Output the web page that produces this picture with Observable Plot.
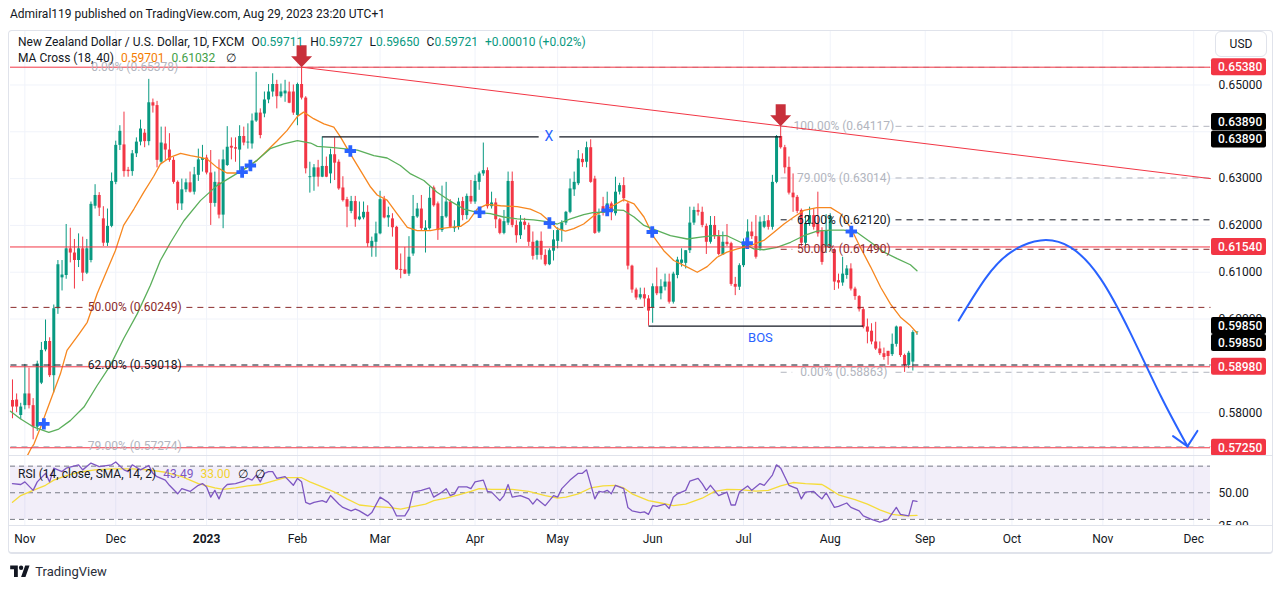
<!DOCTYPE html>
<html><head><meta charset="utf-8">
<script src="https://cdn.jsdelivr.net/npm/d3@7"></script>
<script src="https://cdn.jsdelivr.net/npm/@observablehq/plot@0.6"></script>
<style>
html,body{margin:0;padding:0;background:#fff;}
#wrap{position:relative;width:1281px;height:589px;overflow:hidden;font-family:Roboto,"Noto Sans",sans-serif;color:#131722;font-size:12px;}
.abs{position:absolute;white-space:nowrap;line-height:16px;}
#main,#rsi{position:absolute;left:0;}
#main{top:30px;} #rsi{top:455px;}
.g{color:#089981}.sp{margin-left:7px}
</style></head><body>
<div id="wrap">
  <div class="abs" style="left:10px;top:6px;">Admiral119 published on TradingView.com, Aug 29, 2023 23:20 UTC+1</div>
  <div id="main"></div>
  <div id="rsi"></div>
  <div style="position:absolute;left:9px;top:455px;width:1263px;height:1px;background:#e0e3eb"></div>
  <div style="position:absolute;left:9px;top:525px;width:1263px;height:1px;background:#e0e3eb"></div>
  <div style="position:absolute;left:1212px;top:526px;width:58px;height:9px;background:#fff"></div>
  <div style="position:absolute;left:8px;top:30px;width:1263px;height:521px;border:1px solid #e0e3eb;border-bottom:2px solid #e0e3eb;border-radius:4px;pointer-events:none"></div>
  <div class="abs" style="left:1215px;top:31px;width:50px;height:24px;line-height:24px;border:1px solid #e0e3eb;border-radius:6px;text-align:center;background:#fff">USD</div>
  <div class="abs" id="leg1" style="left:18px;top:34px;"></div>
  <div class="abs" id="leg2" style="left:18px;top:50px;"></div>
  <div class="abs" id="leg3" style="left:18px;top:466px;"></div>
  <div class="abs" style="left:10px;top:564px;font-size:13px;color:#2a2e39;">
    <svg width="20" height="12" viewBox="0 0 36 22" style="vertical-align:-1px"><path d="M14 22H7V8H0V1h14v21zM28 22h-8l7.5-21h8L28 22z" fill="#131722"/><circle cx="20" cy="5" r="4" fill="#131722"/></svg>
    <span style="margin-left:2px">TradingView</span>
  </div>
</div>
<script>
// ---------- DATA ----------
const opens = [
0.5826,0.5827,0.5794,0.5815,0.5840,0.5815,0.5769,0.5863,0.5934,0.5952,
0.5879,0.6022,0.6088,0.6093,0.6150,0.6141,0.6125,0.6150,0.6098,0.6125,
0.6241,0.6264,0.6214,0.6162,0.6198,0.6292,0.6371,0.6372,0.6318,0.6315,
0.6353,0.6378,0.6397,0.6379,0.6462,0.6456,0.6335,0.6374,0.6361,0.6339,
0.6292,0.6246,0.6276,0.6291,0.6271,0.6307,0.6339,0.6344,0.6312,0.6247,
0.6291,0.6222,0.6328,0.6369,0.6366,0.6361,0.6390,0.6376,0.6374,0.6423,
0.6440,0.6438,0.6468,0.6485,0.6501,0.6475,0.6481,0.6485,0.6485,0.6435,
0.6501,0.6472,0.6302,0.6303,0.6323,0.6303,0.6326,0.6310,0.6351,0.6335,
0.6280,0.6255,0.6230,0.6251,0.6212,0.6216,0.6228,0.6152,0.6164,0.6182,
0.6255,0.6216,0.6214,0.6196,0.6106,0.6105,0.6096,0.6139,0.6218,0.6235,
0.6187,0.6193,0.6280,0.6246,0.6189,0.6218,0.6250,0.6193,0.6196,0.6251,
0.6221,0.6262,0.6250,0.6292,0.6310,0.6317,0.6240,0.6248,0.6212,0.6183,
0.6205,0.6294,0.6200,0.6178,0.6207,0.6200,0.6164,0.6136,0.6166,0.6136,
0.6116,0.6145,0.6166,0.6189,0.6205,0.6228,0.6276,0.6289,0.6341,0.6335,
0.6366,0.6299,0.6186,0.6240,0.6228,0.6246,0.6225,0.6271,0.6285,0.6246,
0.6113,0.6062,0.6045,0.6052,0.6043,0.6024,0.6069,0.6054,0.6068,0.6079,
0.6036,0.6093,0.6119,0.6119,0.6146,0.6205,0.6232,0.6228,0.6198,0.6164,
0.6200,0.6176,0.6137,0.6164,0.6161,0.6074,0.6068,0.6114,0.6153,0.6186,
0.6176,0.6150,0.6196,0.6210,0.6196,0.6292,0.6390,0.6366,0.6324,0.6269,
0.6260,0.6232,0.6162,0.6203,0.6221,0.6203,0.6189,0.6153,0.6153,0.6148,
0.6082,0.6077,0.6093,0.6107,0.6064,0.6048,0.6020,0.5983,0.5974,0.5951,
0.5936,0.5926,0.5931,0.5924,0.5946,0.5983,0.5922,0.5901,0.5908,0.59711];
const highs = [
0.5870,0.5840,0.5820,0.5903,0.5895,0.5830,0.5910,0.5950,0.5998,0.5960,
0.6030,0.6125,0.6125,0.6202,0.6194,0.6170,0.6182,0.6175,0.6170,0.6250,
0.6287,0.6270,0.6240,0.6235,0.6312,0.6380,0.6413,0.6442,0.6324,0.6360,
0.6387,0.6425,0.6405,0.6512,0.6470,0.6465,0.6410,0.6410,0.6396,0.6345,
0.6295,0.6299,0.6299,0.6314,0.6324,0.6363,0.6371,0.6350,0.6360,0.6314,
0.6340,0.6361,0.6411,0.6387,0.6387,0.6413,0.6410,0.6417,0.6438,0.6527,
0.6449,0.6485,0.6501,0.6524,0.6510,0.6502,0.6510,0.6506,0.6500,0.6504,
0.6538,0.6475,0.6335,0.6330,0.6339,0.6389,0.6346,0.6363,0.6387,0.6340,
0.6304,0.6260,0.6262,0.6262,0.6250,0.6250,0.6242,0.6175,0.6207,0.6273,
0.6262,0.6239,0.6225,0.6198,0.6139,0.6153,0.6176,0.6264,0.6247,0.6264,
0.6210,0.6282,0.6284,0.6250,0.6284,0.6292,0.6255,0.6210,0.6258,0.6260,
0.6267,0.6296,0.6307,0.6314,0.6376,0.6323,0.6271,0.6257,0.6215,0.6232,
0.6314,0.6314,0.6210,0.6221,0.6215,0.6205,0.6186,0.6168,0.6186,0.6148,
0.6150,0.6189,0.6195,0.6210,0.6230,0.6299,0.6314,0.6360,0.6353,0.6378,
0.6383,0.6305,0.6235,0.6260,0.6271,0.6250,0.6303,0.6290,0.6302,0.6250,
0.6115,0.6066,0.6066,0.6066,0.6050,0.6075,0.6109,0.6084,0.6096,0.6096,
0.6100,0.6132,0.6150,0.6146,0.6239,0.6239,0.6246,0.6239,0.6203,0.6219,
0.6219,0.6189,0.6186,0.6202,0.6164,0.6089,0.6118,0.6171,0.6212,0.6207,
0.6221,0.6218,0.6221,0.6221,0.6307,0.6392,0.6412,0.6371,0.6346,0.6310,
0.6264,0.6235,0.6221,0.6239,0.6235,0.6271,0.6195,0.6223,0.6225,0.6150,
0.6096,0.6132,0.6114,0.6118,0.6068,0.6050,0.6025,0.6000,0.5990,0.5993,
0.5951,0.5938,0.5931,0.5968,0.5985,0.5983,0.5925,0.5931,0.5975,0.59727];
const lows = [
0.5787,0.5800,0.5785,0.5806,0.5808,0.5742,0.5760,0.5860,0.5930,0.5875,
0.5842,0.6010,0.6060,0.6085,0.6120,0.6064,0.6110,0.6080,0.6095,0.6120,
0.6235,0.6219,0.6155,0.6155,0.6195,0.6287,0.6360,0.6303,0.6303,0.6305,
0.6345,0.6370,0.6366,0.6370,0.6440,0.6323,0.6330,0.6339,0.6335,0.6288,
0.6232,0.6232,0.6270,0.6269,0.6265,0.6294,0.6314,0.6308,0.6200,0.6239,
0.6214,0.6193,0.6326,0.6340,0.6335,0.6314,0.6370,0.6363,0.6363,0.6420,
0.6385,0.6430,0.6460,0.6474,0.6449,0.6472,0.6463,0.6460,0.6435,0.6413,
0.6468,0.6310,0.6269,0.6273,0.6282,0.6302,0.6302,0.6289,0.6296,0.6275,
0.6250,0.6195,0.6225,0.6196,0.6210,0.6212,0.6153,0.6132,0.6132,0.6180,
0.6214,0.6196,0.6175,0.6104,0.6086,0.6095,0.6091,0.6134,0.6215,0.6189,
0.6141,0.6190,0.6239,0.6168,0.6185,0.6215,0.6193,0.6185,0.6190,0.6210,
0.6212,0.6245,0.6245,0.6275,0.6305,0.6235,0.6235,0.6193,0.6180,0.6180,
0.6200,0.6195,0.6162,0.6170,0.6190,0.6155,0.6126,0.6126,0.6126,0.6113,
0.6114,0.6124,0.6150,0.6164,0.6200,0.6225,0.6262,0.6285,0.6324,0.6323,
0.6290,0.6181,0.6183,0.6220,0.6225,0.6210,0.6220,0.6265,0.6250,0.6105,
0.6055,0.6040,0.6041,0.6025,0.5985,0.5991,0.6050,0.6041,0.6060,0.6032,
0.6032,0.6086,0.6111,0.6107,0.6140,0.6200,0.6220,0.6195,0.6138,0.6160,
0.6170,0.6135,0.6136,0.6155,0.6070,0.6050,0.6061,0.6110,0.6150,0.6170,
0.6128,0.6145,0.6193,0.6190,0.6190,0.6289,0.6363,0.6310,0.6265,0.6228,
0.6225,0.6155,0.6155,0.6198,0.6190,0.6175,0.6115,0.6140,0.6145,0.6061,
0.6064,0.6070,0.6085,0.6060,0.6040,0.6015,0.5979,0.5947,0.5945,0.5933,
0.5922,0.5912,0.5901,0.5920,0.5940,0.5918,0.5886,0.5894,0.5889,0.59650];
const closes = [
0.5812,0.5812,0.5812,0.5840,0.5815,0.5769,0.5904,0.5933,0.5952,0.5879,
0.6022,0.6116,0.6094,0.6150,0.6141,0.6125,0.6150,0.6098,0.6150,0.6245,
0.6264,0.6237,0.6162,0.6198,0.6294,0.6371,0.6401,0.6315,0.6315,0.6353,
0.6378,0.6406,0.6379,0.6462,0.6455,0.6339,0.6376,0.6361,0.6339,0.6292,
0.6246,0.6276,0.6291,0.6271,0.6308,0.6340,0.6343,0.6312,0.6247,0.6292,
0.6222,0.6340,0.6367,0.6365,0.6363,0.6390,0.6376,0.6378,0.6423,0.6440,
0.6392,0.6468,0.6485,0.6501,0.6475,0.6485,0.6487,0.6461,0.6440,0.6501,
0.6472,0.6321,0.6304,0.6323,0.6303,0.6326,0.6303,0.6351,0.6333,0.6278,
0.6253,0.6239,0.6251,0.6212,0.6218,0.6228,0.6161,0.6166,0.6182,0.6255,
0.6216,0.6221,0.6195,0.6105,0.6104,0.6096,0.6132,0.6219,0.6235,0.6193,
0.6194,0.6258,0.6242,0.6189,0.6219,0.6250,0.6196,0.6196,0.6250,0.6221,
0.6262,0.6250,0.6294,0.6310,0.6317,0.6240,0.6248,0.6212,0.6183,0.6208,
0.6294,0.6200,0.6178,0.6207,0.6200,0.6164,0.6134,0.6166,0.6136,0.6116,
0.6146,0.6169,0.6189,0.6205,0.6228,0.6278,0.6292,0.6342,0.6334,0.6366,
0.6292,0.6183,0.6221,0.6228,0.6246,0.6228,0.6271,0.6285,0.6257,0.6113,
0.6062,0.6045,0.6052,0.6043,0.6017,0.6069,0.6054,0.6069,0.6079,0.6036,
0.6096,0.6126,0.6126,0.6146,0.6205,0.6232,0.6228,0.6200,0.6164,0.6200,
0.6176,0.6138,0.6164,0.6159,0.6074,0.6068,0.6114,0.6157,0.6186,0.6176,
0.6132,0.6207,0.6208,0.6196,0.6292,0.6390,0.6366,0.6323,0.6269,0.6259,
0.6230,0.6162,0.6203,0.6221,0.6196,0.6182,0.6121,0.6189,0.6219,0.6079,
0.6077,0.6096,0.6107,0.6064,0.6048,0.6020,0.5983,0.5972,0.5951,0.5936,
0.5926,0.5918,0.5920,0.5946,0.5983,0.5922,0.5901,0.5927,0.59711,0.59721];

// MA Cross (18, 40): [bar, value]
const ma18Points = [[3.6,0.5708],[4.4,0.5722],[5.2,0.5733],[6.8,0.5769],[9.2,0.5826],[11.6,0.5883],[13.2,0.5933],[16.1,0.5968],[18.1,0.5993],[20.5,0.6054],[22.9,0.6104],[24.9,0.6146],[26.9,0.6200],[29.4,0.6235],[31.8,0.6271],[34.2,0.6305],[35.8,0.6331],[38.3,0.6346],[40.7,0.6354],[43.1,0.6349],[45.1,0.6346],[47.1,0.6342],[49.5,0.6324],[51.9,0.6312],[54.4,0.6312],[56.8,0.6324],[59.2,0.6339],[61.7,0.6360],[64.1,0.6381],[66.5,0.6403],[69.0,0.6433],[70.5,0.6442],[72.9,0.6428],[75.4,0.6417],[77.8,0.6410],[79.4,0.6389],[81.8,0.6353],[84.2,0.6318],[86.7,0.6282],[88.3,0.6265],[90.7,0.6254],[93.1,0.6225],[95.6,0.6196],[98.0,0.6189],[101.2,0.6189],[103.6,0.6193],[106.0,0.6196],[108.5,0.6198],[110.5,0.6210],[112.5,0.6235],[114.9,0.6245],[118.2,0.6242],[122.2,0.6240],[125.4,0.6235],[127.9,0.6225],[130.3,0.6207],[131.9,0.6193],[133.9,0.6188],[135.9,0.6193],[138.3,0.6203],[140.8,0.6221],[143.2,0.6232],[145.6,0.6243],[148.0,0.6255],[150.5,0.6246],[152.9,0.6218],[155.3,0.6175],[157.7,0.6146],[160.1,0.6125],[163.4,0.6111],[165.8,0.6100],[168.2,0.6112],[170.6,0.6132],[173.0,0.6143],[175.5,0.6150],[178.7,0.6157],[181.9,0.6168],[184.3,0.6185],[186.8,0.6203],[189.2,0.6218],[191.6,0.6232],[194.8,0.6238],[198.1,0.6238],[200.5,0.6225],[202.9,0.6196],[205.3,0.6153],[207.8,0.6111],[210.2,0.6068],[212.6,0.6032],[215.0,0.6004],[217.4,0.5986],[219,0.59701]];
const ma40Points = [[-0.5,0.5803],[1.9,0.5787],[5.2,0.5769],[8.8,0.5758],[11.2,0.5765],[14.0,0.5783],[17.3,0.5812],[20.5,0.5858],[23.7,0.5901],[26.9,0.5958],[30.2,0.6011],[33.4,0.6072],[35.8,0.6125],[38.3,0.6164],[41.5,0.6210],[45.5,0.6253],[49.5,0.6285],[53.6,0.6307],[56.8,0.6324],[59.2,0.6339],[62.4,0.6364],[65.7,0.6374],[69.0,0.6381],[72.2,0.6376],[73.8,0.6369],[77.8,0.6366],[83.5,0.6361],[87.5,0.6349],[90.7,0.6344],[93.9,0.6328],[96.4,0.6310],[99.6,0.6296],[102.8,0.6271],[106.0,0.6252],[109.3,0.6235],[112.5,0.6228],[115.7,0.6225],[118.9,0.6218],[122.2,0.6214],[126.2,0.6212],[130.3,0.6207],[131.9,0.6203],[135.1,0.6214],[138.3,0.6223],[140.8,0.6228],[143.2,0.6228],[145.6,0.6233],[148.0,0.6232],[150.5,0.6218],[152.9,0.6200],[156.1,0.6189],[159.3,0.6178],[163.4,0.6171],[166.6,0.6175],[169.8,0.6178],[173.0,0.6178],[176.3,0.6164],[179.5,0.6150],[181.9,0.6148],[185.1,0.6153],[188.4,0.6164],[191.6,0.6178],[194.8,0.6188],[198.1,0.6190],[201.3,0.6190],[204.5,0.6185],[207.8,0.6164],[211.0,0.6143],[214.2,0.6129],[217.4,0.6116],[219,0.61032]];
const crossPoints = [[7.6,0.5776],[55.6,0.6314],[57.6,0.6328],[81.8,0.6359],[113.1,0.6228],[130.0,0.6205],[144.0,0.6232],[154.9,0.6186],[177.9,0.6162],[203.1,0.6187]];

// RSI (14) and its SMA (14): [bar, value]
const rsiPoints = [[0,56.9],[2,56.2],[3,58.2],[5,51.8],[6,58.2],[8,64.6],[9,58.2],[10,68.5],[12,65.9],[13,68.5],
[16,71.0],[17,67.2],[19,72.3],[21,69.7],[24,71.0],[25,73.1],[27,67.2],[28,65.9],[29,71.0],[31,67.2],
[33,70.5],[34,64.6],[35,62.1],[37,59.5],[38,55.6],[40,49.2],[41,53.1],[43,51.0],[45,55.6],[46,56.9],
[47,54.4],[48,46.7],[49,51.8],[50,45.4],[51,53.1],[52,56.2],[54,56.9],[56,58.7],[57,60.8],[58,59.5],
[59,63.3],[60,58.2],[61,64.6],[62,65.9],[63,65.9],[64,60.8],[66,62.1],[68,55.6],[69,60.8],[70,58.2],
[71,42.8],[72,41.5],[73,42.8],[75,44.1],[76,42.8],[77,47.9],[79,41.5],[80,39.0],[82,36.4],[83,37.7],
[84,36.4],[86,32.6],[87,35.1],[89,46.7],[91,42.8],[92,39.0],[93,32.6],[95,32.6],[96,37.7],[97,50.5],
[99,51.8],[101,53.6],[102,46.7],[104,50.5],[105,53.1],[106,47.9],[107,49.2],[108,54.4],[110,54.4],[111,53.1],
[112,58.2],[114,59.5],[115,51.0],[116,50.5],[118,44.1],[119,47.9],[120,56.2],[121,46.7],[123,47.9],[125,45.4],
[126,41.5],[127,45.4],[129,40.3],[131,47.9],[132,46.7],[133,53.1],[135,59.5],[137,64.6],[138,64.6],[139,67.2],
[141,45.4],[142,51.0],[143,50.5],[144,51.8],[145,49.2],[146,55.6],[148,53.1],[149,39.0],[150,36.4],[152,35.1],
[153,35.6],[154,33.8],[155,40.3],[156,39.7],[158,41.5],[159,38.2],[160,46.7],[161,49.2],[163,51.8],[164,58.7],
[166,60.8],[167,56.9],[168,51.8],[169,55.6],[171,47.9],[172,49.2],[173,50.5],[174,40.8],[175,40.8],[176,50.5],
[178,55.1],[179,51.8],[181,56.9],[182,55.6],[184,63.3],[185,71.0],[186,68.5],[187,62.1],[188,55.6],[190,53.1],
[191,45.4],[192,50.5],[194,51.0],[195,47.9],[196,45.4],[197,50.0],[199,39.0],[200,39.7],[202,42.3],[203,39.0],
[205,36.4],[206,32.6],[208,30.0],[210,27.9],[212,30.0],[214,39.0],[215,33.8],[217,32.6],[218,44.1],[219,43.49]];
const rsiSmaPoints = [[0,42.8],[2,47.9],[5,51.8],[8,55.6],[10,59.5],[13,62.8],[16,65.4],[20,67.2],[24,67.9],[29,67.9],[33,67.2],[37,65.4],[41,62.1],[45,56.9],[49,53.6],[51,52.6],[54,53.6],[57,55.1],[60,56.2],[63,58.7],[66,61.3],[70,61.3],[72,58.2],[75,54.4],[78,50.5],[81,45.4],[84,40.8],[87,39.7],[91,39.0],[94,37.7],[96,39.0],[100,41.5],[102,44.1],[105,45.9],[108,48.5],[111,51.0],[113,53.1],[116,52.6],[121,52.6],[125,51.0],[129,47.9],[132,45.9],[134,46.7],[137,49.2],[140,53.6],[143,55.1],[146,55.6],[148,53.6],[150,49.2],[154,44.1],[157,42.3],[160,40.3],[163,41.5],[167,45.9],[170,51.0],[173,52.6],[176,52.3],[180,51.3],[183,51.8],[186,55.1],[189,57.7],[192,56.9],[196,56.2],[197,54.4],[200,48.5],[204,44.9],[207,41.5],[210,37.2],[213,33.8],[216,32.6],[219,33.00]];
const rsiBands = [70, 50, 30];
const rsiTicks = [25, 50];

// Axis ticks (grid at every cent; labels hidden where the reference covers them with price boxes)
const priceGrid = [0.58, 0.59, 0.60, 0.61, 0.62, 0.63, 0.64, 0.65];
const priceTickLabels = [0.58, 0.60, 0.61, 0.62, 0.63, 0.65];
const monthIdx = [3, 25, 47, 69, 89, 112, 132, 155, 177, 198, 221, 242, 264, 286];
const monthLabels = ["Nov","Dec","2023","Feb","Mar","Apr","May","Jun","Jul","Aug","Sep","Oct","Nov","Dec"];

// Drawings
const redLevels = [0.65380, 0.61540, 0.58980, 0.57250];
const blackLevels = [0.63890, 0.59850];
const leftFibLevels = ["0.00%", "50.00%", "62.00%", "79.00%"];
const leftFibPrices = [0.65378, 0.60249, 0.59018, 0.57274];
const rightFibLevels = ["100.00%", "79.00%", "62.00%", "50.00%", "0.00%"];
const rightFibPrices = [0.64117, 0.63014, 0.62120, 0.61490, 0.58863];
const trendPoints = [[70, 0.6538], [290.07, 0.6300]];
const xLineBars = [75, 186], xLinePrice = 0.6389;
const bosBars = [154, 206], bosPrice = 0.5985;
const arrowPoints = [[70, 0.6538], [186, 0.6412]];
const projectionPoints = [[229.1,0.5997],[235.6,0.6087],[241.6,0.6142],[248.9,0.6168],[256.2,0.6153],[263.4,0.6087],[270.7,0.5970],[278.0,0.5836],[284.5,0.5728]];
const arrowHeadPoints = [[281.0,0.5750],[286.9,0.5761]];

// ---------- BUILD ----------
const UP = "#089981", DOWN = "#F23645";
const xDomain = [-0.48, 290.07];
const candles = opens.map((o, i) => ({i, o, h: highs[i], l: lows[i], c: closes[i]}));
const pts = a => a.map(([b, v]) => ({b, v}));
const fibColor = lv => lv === "50.00%" ? "#8a2b2b" : lv === "62.00%" ? "#131722" : "#b2b5be";
const fmt5 = d3.format(".5f");
const leftC = 29.6, rightC = 201.3, rightStart = 186, gap = 12.5;
const fibSegs = [], fibLabels = [];
leftFibLevels.forEach((lv, k) => {
  const p = leftFibPrices[k], color = fibColor(lv);
  if (k > 0) fibSegs.push({x1: xDomain[0], x2: leftC - gap, p, color});
  fibSegs.push({x1: leftC + gap, x2: xDomain[1], p, color});
  fibLabels.push({x: leftC, p, t: `${lv} (${fmt5(p)})`, color});
});
rightFibLevels.forEach((lv, k) => {
  const p = rightFibPrices[k], color = fibColor(lv);
  fibSegs.push({x1: rightStart, x2: rightC - gap, p, color});
  fibSegs.push({x1: rightC + gap, x2: xDomain[1], p, color});
  fibLabels.push({x: rightC, p, t: `${lv} (${fmt5(p)})`, color});
});
const xMid = 129.9, bosMid = 181.1;
const structSegs = [
  {x1: xLineBars[0], x2: xMid - 2.5, p: xLinePrice},
  {x1: xMid + 2.5, x2: xLineBars[1], p: xLinePrice},
  {x1: bosBars[0], x2: bosBars[1], p: bosPrice}
];
const arrowSymbol = {draw(ctx) {
  ctx.moveTo(-5, -22); ctx.lineTo(5, -22); ctx.lineTo(5, -11); ctx.lineTo(10.5, -11);
  ctx.lineTo(0, 0); ctx.lineTo(-10.5, -11); ctx.lineTo(-5, -11); ctx.closePath();
}};
const tip = projectionPoints[projectionPoints.length - 1];
const headLinks = arrowHeadPoints.map(([b, v]) => ({x1: b, y1: v, x2: tip[0], y2: tip[1]}));
const bodyEnd = d => Math.abs(d.c - d.o) < 0.00003 ? d.o + 0.00003 : d.c;
const candleColor = d => d.c >= d.o ? UP : DOWN;

const main = Plot.plot({
  width: 1272, height: 425,
  marginLeft: 10, marginRight: 62, marginTop: 0, marginBottom: 0,
  style: {fontFamily: "Roboto, sans-serif", fontSize: "12px", color: "#131722", background: "transparent", overflow: "visible"},
  x: {domain: xDomain, axis: null},
  y: {domain: [0.57085, 0.66164], axis: "right", ticks: priceTickLabels, tickFormat: d3.format(".5f"), tickSize: 0, tickPadding: 8, label: null},
  color: {type: "identity"},
  marks: [
    Plot.ruleY(priceGrid, {stroke: "#f0f3fa"}),
    Plot.ruleX(monthIdx, {stroke: "#f0f3fa"}),
    Plot.ruleX(candles, {x: "i", y1: "l", y2: "h", stroke: candleColor, strokeWidth: 1}),
    Plot.ruleX(candles, {x: "i", y1: "o", y2: bodyEnd, stroke: candleColor, strokeWidth: 3}),
    Plot.line(pts(ma18Points), {x: "b", y: "v", stroke: "#F7871F", strokeWidth: 1.3, clip: true}),
    Plot.line(pts(ma40Points), {x: "b", y: "v", stroke: "#5BAF5B", strokeWidth: 1.3}),
    Plot.dot(pts(crossPoints), {x: "b", y: "v", symbol: "cross", r: 4.8, fill: "#2962FF", stroke: "none"}),
    Plot.link(fibSegs, {x1: "x1", x2: "x2", y1: "p", y2: "p", stroke: "color", strokeWidth: 1, strokeDasharray: "6,5"}),
    Plot.ruleY(redLevels, {stroke: "#F23645", strokeWidth: 1}),
    Plot.text(fibLabels, {x: "x", y: "p", text: "t", fill: "color", fontSize: 12}),
    Plot.line(pts(trendPoints), {x: "b", y: "v", stroke: "#F23645", strokeWidth: 1}),
    Plot.link(structSegs, {x1: "x1", x2: "x2", y1: "p", y2: "p", stroke: "#131722", strokeWidth: 1.2}),
    Plot.text([{b: xMid, v: xLinePrice, t: "X"}], {x: "b", y: "v", text: "t", fill: "#2962FF", fontSize: 14}),
    Plot.text([{b: bosMid, v: bosPrice, t: "BOS"}], {x: "b", y: "v", text: "t", fill: "#2962FF", fontSize: 13, dy: 12}),
    Plot.dot(pts(arrowPoints), {x: "b", y: "v", symbol: arrowSymbol, fill: "#C8303B", stroke: "none"}),
    Plot.line(pts(projectionPoints), {x: "b", y: "v", curve: "natural", stroke: "#2962FF", strokeWidth: 2}),
    Plot.link(headLinks, {x1: "x1", y1: "y1", x2: "x2", y2: "y2", stroke: "#2962FF", strokeWidth: 2, strokeLinecap: "round"})
  ]
});
document.getElementById("main").appendChild(main);

// price labels on the right axis
const ys = main.scale("y");
const g = d3.select(main).append("g").attr("font-family", "Roboto, sans-serif").attr("font-size", 12).attr("text-anchor", "start");
function priceBox(v, y, bg) {
  g.append("rect").attr("x", 1211).attr("y", y - 8.5).attr("width", 55).attr("height", 17).attr("rx", 2).attr("fill", bg);
  g.append("text").attr("x", 1218).attr("y", y).attr("dy", "0.36em").attr("text-anchor", "start").attr("fill", "#fff").attr("font-weight", 500).text(fmt5(v));
}
redLevels.forEach(v => priceBox(v, ys.apply(v), "#F23645"));
const stackOffsets = [[-15, 2.5], [0, 17]];
blackLevels.forEach((v, k) => stackOffsets[k].forEach(o => priceBox(v, ys.apply(v) + o, "#000")));

const rsiPlot = Plot.plot({
  width: 1272, height: 98,
  marginLeft: 10, marginRight: 62, marginTop: 0, marginBottom: 28,
  style: {fontFamily: "Roboto, sans-serif", fontSize: "12px", color: "#131722", background: "transparent", overflow: "visible"},
  x: {domain: xDomain, ticks: monthIdx, tickFormat: d => monthLabels[monthIdx.indexOf(d)], tickSize: 0, tickPadding: 9, label: null},
  y: {domain: [25.4, 78], axis: "right", ticks: rsiTicks, tickFormat: d3.format(".2f"), tickSize: 0, tickPadding: 8, label: null},
  marks: [
    Plot.ruleX(monthIdx, {stroke: "#f0f3fa"}),
    Plot.rect([{a: 30, b: 70}], {y1: "a", y2: "b", fill: "#7E57C2", fillOpacity: 0.1}),
    Plot.ruleY(rsiBands, {stroke: "#787b86", strokeDasharray: "5,4", strokeWidth: 1}),
    Plot.line(pts(rsiSmaPoints), {x: "b", y: "v", stroke: "#F5DC3A", strokeWidth: 1.3}),
    Plot.line(pts(rsiPoints), {x: "b", y: "v", stroke: "#7E57C2", strokeWidth: 1.3})
  ]
});
document.getElementById("rsi").appendChild(rsiPlot);
d3.select(rsiPlot).selectAll("text").filter(function() { return this.textContent === "2023"; }).attr("font-weight", "bold");

// legends
const last = opens.length - 1;
const chg = closes[last] - closes[last - 1];
const sgn = x => (x >= 0 ? "+" : "");
document.getElementById("leg1").innerHTML =
  `New Zealand Dollar / U.S. Dollar, 1D, FXCM<span class="sp">O</span><span class="g">${fmt5(opens[last])}</span>` +
  `<span class="sp">H</span><span class="g">${fmt5(highs[last])}</span>` +
  `<span class="sp">L</span><span class="g">${fmt5(lows[last])}</span>` +
  `<span class="sp">C</span><span class="g">${fmt5(closes[last])}</span>` +
  `<span class="g sp">${sgn(chg)}${fmt5(chg)} (${sgn(chg)}${d3.format(".2f")(chg / closes[last - 1] * 100)}%)</span>`;
document.getElementById("leg2").innerHTML =
  `MA Cross (18, 40)<span class="sp" style="color:#F57C00">${fmt5(ma18Points[ma18Points.length-1][1])}</span>` +
  `<span class="sp" style="color:#43A047">${fmt5(ma40Points[ma40Points.length-1][1])}</span><span class="sp" style="margin-left:11px">∅</span>`;
document.getElementById("leg3").innerHTML =
  `RSI (14, close, SMA, 14, 2)<span class="sp" style="color:#7E57C2">${d3.format(".2f")(rsiPoints[rsiPoints.length-1][1])}</span>` +
  `<span class="sp" style="color:#F2D22E">${d3.format(".2f")(rsiSmaPoints[rsiSmaPoints.length-1][1])}</span><span class="sp">∅</span><span class="sp">∅</span>`;
</script>
</body></html>
